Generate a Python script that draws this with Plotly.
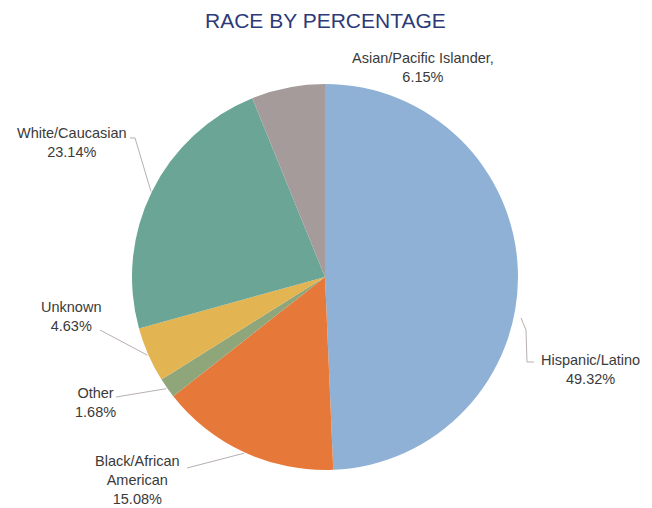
import math
import plotly.graph_objects as go

# ---- data ----
categories = ["Hispanic/Latino", "Black/African American", "Other", "Unknown",
              "White/Caucasian", "Asian/Pacific Islander"]
percentages = [49.32, 15.08, 1.68, 4.63, 23.14, 6.15]
label_names = ["Hispanic/Latino", "Black/African<br>American", "Other", "Unknown",
               "White/Caucasian", "Asian/Pacific Islander,"]
title_text = "RACE BY PERCENTAGE"

# ---- styles / layout ----
colors = ["#8fb1d6", "#e6793a", "#8fa57a", "#e3b452", "#6aa596", "#a59b9b"]
W, H = 652, 508
CX, CY, R = 325, 277, 193           # pie centre and radius in pixels
label_centers = [(590, 369), (137, 480), (95, 402), (71, 316), (72, 143), (423, 68)]
# leader line end points (near label), None = no leader line
leader_ends = [[(526, 330), (527, 362), (534, 362)],
               [(187, 468)], [(116, 397)], [(100, 330)], [(135, 138), (130, 138)], None]
leader_start_override = [(521, 318), None, None, None, None, None]

FONT = "Liberation Sans, Arial, sans-serif"


def px(x):
    return x / W


def py(y):
    return 1 - y / H


fig = go.Figure(go.Pie(
    labels=categories,
    values=percentages,
    sort=False,
    direction="clockwise",
    rotation=0,
    marker=dict(colors=colors, line=dict(width=0)),
    textinfo="none",
    hoverinfo="label+percent",
    showlegend=False,
    domain=dict(x=[px(CX - R), px(CX + R)], y=[py(CY + R), py(CY - R)]),
))

annotations = []
shapes = []
total = sum(percentages)
cum = 0.0
for i, v in enumerate(percentages):
    mid = (cum + v / 2) / total * 2 * math.pi
    cum += v
    ex = CX + (R + 1) * math.sin(mid)
    ey = CY - (R + 1) * math.cos(mid)
    lx, ly = label_centers[i]
    annotations.append(dict(
        x=px(lx), y=py(ly), xref="paper", yref="paper",
        text=f"{label_names[i]}<br>{v:.2f}%",
        showarrow=False, align="center",
        font=dict(family=FONT, size=14.5, color="#3a3a3a"),
        xanchor="center", yanchor="middle",
    ))
    if leader_ends[i] is not None:
        start = leader_start_override[i] or (ex, ey)
        pts = [start] + leader_ends[i]
        path = "M " + " L ".join(f"{px(x):.5f},{py(y):.5f}" for x, y in pts)
        shapes.append(dict(type="path", xref="paper", yref="paper", path=path,
                           line=dict(color="#b8b0b0", width=1)))

annotations.append(dict(
    x=px(325), y=py(20), xref="paper", yref="paper", text=title_text,
    showarrow=False, xanchor="center", yanchor="middle",
    font=dict(family=FONT, size=21, color="#2e3a78"),
))

fig.update_layout(
    width=W, height=H,
    margin=dict(l=0, r=0, t=0, b=0),
    paper_bgcolor="white", plot_bgcolor="white",
    annotations=annotations, shapes=shapes,
)

fig.write_html("out.html")
